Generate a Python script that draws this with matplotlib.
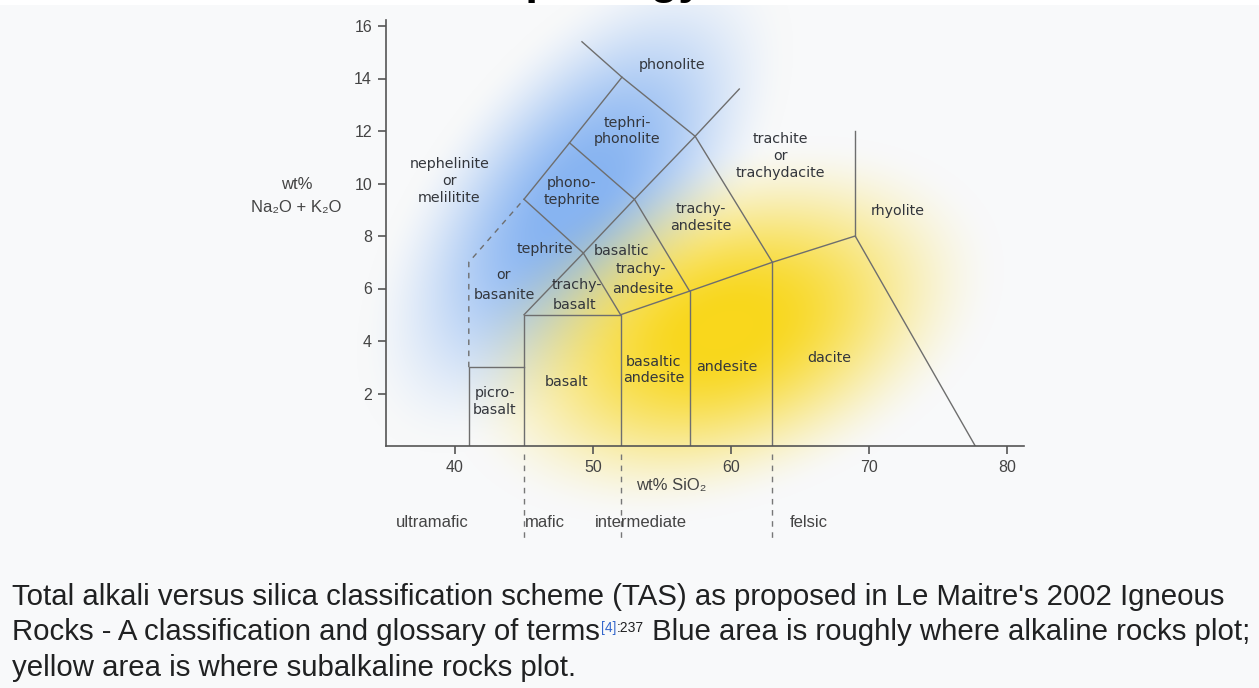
"""TAS (total alkali versus silica) classification diagram, Le Maitre 2002."""

import matplotlib

matplotlib.use("Agg")
import matplotlib.pyplot as plt
import numpy as np

W, H = 1259, 688
BG = "#f8f9fa"
LINE = "#6e6e6e"
TXT = "#33363c"

# field boundaries: (wt% SiO2, wt% Na2O+K2O)
solid_x = [
    [41, 41, 45],
    [45, 45, 52, 52],
    [52, 57, 63, 69, 77.7],
    [57, 57],
    [63, 63],
    [69, 69],
    [45, 49.3, 52],
    [49.3, 53.0, 57.4, 60.6],
    [45, 49.3],
    [45, 48.3, 52.1],
    [48.3, 53.0, 57],
    [49.2, 52.1, 57.4, 63],
]
solid_y = [
    [0, 3, 3],
    [0, 5, 5, 0],
    [5, 5.9, 7, 8, 0],
    [0, 5.9],
    [0, 7],
    [8, 12],
    [5, 7.35, 5],
    [7.35, 9.4, 11.8, 13.6],
    [9.4, 7.35],
    [9.4, 11.55, 14.05],
    [11.55, 9.4, 5.9],
    [15.4, 14.05, 11.8, 7],
]
dashed_x = [41, 41, 45]
dashed_y = [3, 7, 9.4]

field_labels = [
    "phonolite", "tephri-\nphonolite", "trachite\nor\ntrachydacite",
    "nephelinite\nor\nmelilitite", "phono-\ntephrite", "trachy-\nandesite",
    "rhyolite", "tephrite", "or", "basanite", "basaltic", "trachy-", "andesite",
    "trachy-", "basalt", "picro-\nbasalt", "basalt", "basaltic\nandesite",
    "andesite", "dacite",
]
field_x = [
    55.7, 52.5, 63.6, 39.6, 48.45, 57.8, 72.1, 46.5, 43.5, 43.6, 52.1, 53.5,
    53.6, 48.8, 48.7, 42.9, 48.1, 54.4, 59.7, 67.1,
]
field_y = [
    14.5, 12.0, 11.05, 10.1, 9.7, 8.7, 8.95, 7.5, 6.5, 5.75, 7.43, 6.74, 5.98,
    6.13, 5.37, 1.7, 2.44, 2.9, 3.0, 3.35,
]

x_ticks = [40, 50, 60, 70, 80]
y_ticks = [2, 4, 6, 8, 10, 12, 14, 16]

class_names = ["ultramafic", "mafic", "intermediate", "felsic"]
class_x = [38.33, 46.5, 53.5, 65.6]
class_bounds = [45, 52, 63]

caption_1 = "Total alkali versus silica classification scheme (TAS) as proposed in Le Maitre's 2002 Igneous"
caption_2a = "Rocks - A classification and glossary of terms"
caption_ref = "[4]"
caption_page = ":237"
caption_2b = " Blue area is roughly where alkaline rocks plot;"
caption_3 = "yellow area is where subalkaline rocks plot."


def blob(xx, yy, cx, cy, a, b, angle, core):
    """Soft elliptical radial falloff used for the coloured backdrop."""
    t = np.deg2rad(angle)
    dx, dy = xx - cx, yy - cy
    u = dx * np.cos(t) - dy * np.sin(t)
    v = dx * np.sin(t) + dy * np.cos(t)
    r = np.sqrt((u / a) ** 2 + (v / b) ** 2)
    s = np.clip((r - core) / (1 - core), 0, 1)
    return 1 - s * s * (3 - 2 * s)


def backdrop():
    xx, yy = np.meshgrid(np.arange(W) + 0.5, np.arange(H) + 0.5)
    img = np.ones((H, W, 3)) * np.array(matplotlib.colors.to_rgb(BG))
    wb = 0.85 * blob(xx, yy, 575, 200, 300, 148, 52, 0.1)
    blue = np.array(matplotlib.colors.to_rgb("#74a8f0"))
    img = img * (1 - wb[..., None]) + blue * wb[..., None]
    wy = blob(xx, yy, 725, 330, 290, 178, 20, 0.1)
    yellow = np.array(matplotlib.colors.to_rgb("#f9d71c"))
    img = img * (1 - wy[..., None]) + yellow * wy[..., None]
    img[:5] = 1.0
    return img


def main():
    fig = plt.figure(figsize=(W / 100, H / 100), dpi=100, facecolor=BG)

    bg = fig.add_axes([0, 0, 1, 1])
    bg.imshow(backdrop(), extent=(0, W, H, 0), aspect="auto", interpolation="bilinear")
    bg.set_xlim(0, W)
    bg.set_ylim(H, 0)
    bg.axis("off")

    # cropped section heading above the figure (only its lower edge shows)
    bg.text(442, -7, "Morphology", fontsize=33, fontweight="bold",
            family="Liberation Sans", color="black", va="baseline", ha="left")

    ax = fig.add_axes([386 / W, (H - 446) / H, (1023.6 - 386) / W, (446 - 20) / H])
    ax.patch.set_alpha(0)
    ax.set_xlim(35, 35 + (1023.6 - 386) / 13.8)
    ax.set_ylim(0, (446 - 20) / 26.25)
    for side in ("top", "right"):
        ax.spines[side].set_visible(False)
    for side in ("left", "bottom"):
        ax.spines[side].set_color("#555555")
        ax.spines[side].set_linewidth(1.2)
    ax.set_xticks(x_ticks)
    ax.set_yticks(y_ticks)
    ax.tick_params(direction="out", length=6, width=1.2, color="#555555",
                   labelcolor="#444444", labelsize=11.5, pad=4)
    for lab in ax.get_xticklabels() + ax.get_yticklabels():
        lab.set_family("Liberation Sans")

    for xs, ys in zip(solid_x, solid_y):
        ax.plot(xs, ys, color=LINE, lw=1.0, solid_joinstyle="miter")
    ax.plot(dashed_x, dashed_y, color=LINE, lw=1.0, ls=(0, (4, 4)))

    for text, x, y in zip(field_labels, field_x, field_y):
        ax.text(x, y, text, ha="center", va="center", fontsize=10.3,
                color=TXT, family="DejaVu Sans", linespacing=1.25)

    ax.text(28.5, 9.98, "wt%", ha="center", va="center", fontsize=12,
            color="#444444", family="Liberation Sans")
    ax.text(28.5, 9.1, "Na\u2082O + K\u2082O", ha="center", va="center", fontsize=12,
            color="#444444", family=["Liberation Sans", "DejaVu Sans"])
    ax.text(55.7, -1.52, "wt% SiO\u2082", ha="center", va="center", fontsize=12,
            color="#444444", family=["Liberation Sans", "DejaVu Sans"], clip_on=False)

    for name, x in zip(class_names, class_x):
        ax.text(x, -2.9, name, ha="center", va="center", fontsize=12,
                color="#444444", family="Liberation Sans", clip_on=False)
    for xb in class_bounds:
        ax.plot([xb, xb], [-0.3, -3.5], color="#777777", lw=1.0,
                ls=(0, (4, 4)), clip_on=False)

    # caption below the figure
    cap = dict(fontsize=21.2, color="#202122", family="Liberation Sans")
    bg.text(12, 597, caption_1, va="center", ha="left", **cap)
    t2 = bg.text(12, 632, caption_2a, va="center", ha="left", **cap)
    ref = bg.annotate(caption_ref, xy=(1, 1), xycoords=t2, xytext=(1, -2),
                      textcoords="offset points", fontsize=10, color="#3366cc",
                      family="Liberation Sans", va="top", ha="left")
    page = bg.annotate(caption_page, xy=(1, 1), xycoords=ref, xytext=(0, 0),
                       textcoords="offset points", fontsize=10, color="#202122",
                       family="Liberation Sans", va="top", ha="left")
    bg.annotate(caption_2b, xy=(1, 0), xycoords=(page, t2), xytext=(0, 0),
                textcoords="offset points", va="bottom", ha="left", **cap)
    bg.text(12, 668, caption_3, va="center", ha="left", **cap)

    fig.savefig("out.png", dpi=100, facecolor=BG)
    plt.close(fig)


if __name__ == "__main__":
    main()
